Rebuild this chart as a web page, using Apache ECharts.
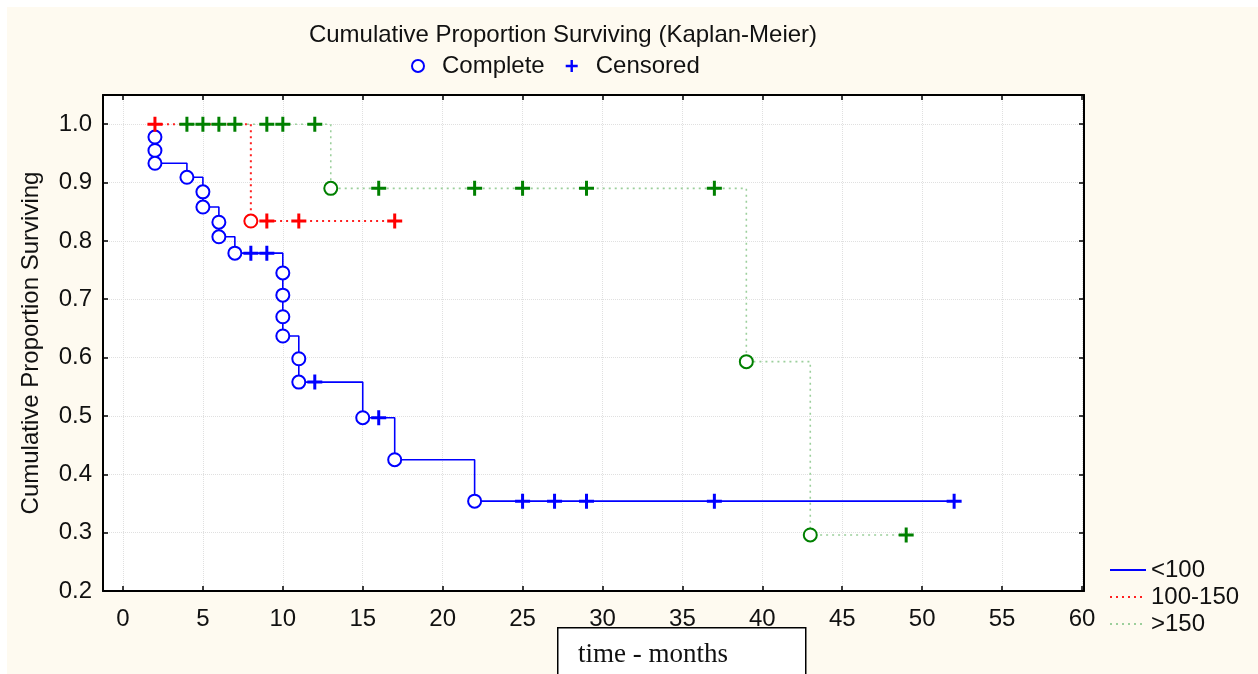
<!DOCTYPE html>
<html><head><meta charset="utf-8">
<script src="https://cdn.jsdelivr.net/npm/echarts@6/dist/echarts.min.js"></script>
<style>html,body{margin:0;padding:0;background:#fff;overflow:hidden;}
#bg{position:absolute;left:7px;top:7px;right:0;bottom:0;background:#fefaf0;}
#c{position:absolute;left:0;top:0;width:1258px;height:674px;}
</style></head><body><div id="bg"></div><div id="c"></div>
<script>
// ---- data ----
const xTicks = [0,5,10,15,20,25,30,35,40,45,50,55,60];
const yTicks = [0.2,0.3,0.4,0.5,0.6,0.7,0.8,0.9,1.0];

// group "<100"
const blueTime  = [2,2,2,4,5,5,6,6,7,8,9,10,10,10,10,11,11,12,15,16,17,22,25,27,29,37,52];
const blueSurv  = [0.978,0.955,0.933,0.909,0.884,0.858,0.832,0.807,0.779,0.779,0.779,0.745,0.707,0.670,0.637,0.598,0.558,0.558,0.497,0.497,0.425,0.354,0.354,0.354,0.354,0.354,0.354];
const blueEvent = [1,1,1,1,1,1,1,1,1,0,0,1,1,1,1,1,1,0,1,0,1,1,0,0,0,0,0];

// group "100-150"
const redTime  = [2,8,9,11,17];
const redSurv  = [1.0,0.834,0.834,0.834,0.834];
const redEvent = [0,1,0,0,0];

// group ">150"
const greenTime  = [4,5,6,7,9,10,12,13,16,22,25,29,37,39,43,49];
const greenSurv  = [1,1,1,1,1,1,1,0.890,0.890,0.890,0.890,0.890,0.890,0.593,0.296,0.296];
const greenEvent = [0,0,0,0,0,0,0,1,0,0,0,0,0,1,1,0];

const groupNames = ['<100','100-150','>150'];

// ---- build ----
const FONT = 'Liberation Sans, Arial, sans-serif';
const FS = 24;
const PLUS = 'path://M4,0H6V4H10V6H6V10H4V6H0V4H4Z';
function pts(t, s){ return t.map((x,i)=>[x,s[i]]); }
function pick(t, s, e, flag){ const r=[]; t.forEach((x,i)=>{ if(e[i]===flag) r.push([x,s[i]]); }); return r; }

const groups = [
  {name:groupNames[0], t:blueTime, s:blueSurv, e:blueEvent, mark:'#0000ff', line:'#0000ff', type:'solid', w:1.6},
  {name:groupNames[1], t:redTime, s:redSurv, e:redEvent, mark:'#ff0000', line:'#ff2020', type:[2,4], w:2},
  {name:groupNames[2], t:greenTime, s:greenSurv, e:greenEvent, mark:'#008000', line:'#9ccf9c', type:[2,4], w:1.6}
];

const series = [];
groups.slice().reverse().forEach(g=>{
  series.push({type:'line', name:g.name, step:'end', data:pts(g.t,g.s), symbol:'none',
    lineStyle:{color:g.line, width:g.w, type:g.type}, itemStyle:{color:g.line}, z:2, silent:true});
});
groups.forEach(g=>{
  series.push({type:'scatter', name:'Complete', data:pick(g.t,g.s,g.e,1), symbol:'circle', symbolSize:13,
    itemStyle:{color:'#ffffff', borderColor:g.mark, borderWidth:2, opacity:1}, z:4});
  series.push({type:'scatter', name:'Censored', data:pick(g.t,g.s,g.e,0), symbol:PLUS, symbolSize:15,
    itemStyle:{color:g.mark, opacity:1}, z:5});
});

const axisCommon = {
  axisLine:{show:true, onZero:false, lineStyle:{color:'#000', width:2}},
  axisTick:{show:true, inside:true, length:5, lineStyle:{color:'#000', width:1.5}},
};
function axis(base, ticks){
  return Object.assign({}, base, {axisLine:axisCommon.axisLine,
    axisTick:Object.assign({}, axisCommon.axisTick, {customValues:ticks})});
}

const option = {
  backgroundColor:'transparent',
  animation:false,
  title:{text:'Cumulative Proportion Surviving (Kaplan-Meier)', left:558, top:18, textAlign:'center',
    textStyle:{fontFamily:FONT, fontSize:FS, fontWeight:'normal', color:'#111'}},
  legend:[
    {data:[{name:'Complete', icon:'circle'},{name:'Censored', icon:PLUS}], left:406, top:49, itemWidth:38, itemHeight:12, itemGap:21,
      textStyle:{fontFamily:FONT, fontSize:FS, color:'#111'}, selectedMode:false},
    {data:groupNames, orient:'vertical', left:1104, top:553, itemWidth:36, itemHeight:14, itemGap:3,
      itemStyle:{opacity:0},
      textStyle:{fontFamily:FONT, fontSize:FS, color:'#111'}, selectedMode:false}
  ],
  grid:{left:103, right:174, top:95, bottom:83, show:true, backgroundColor:'#ffffff', borderWidth:0},
  xAxis:[
    axis({type:'value', min:-1.25, max:60.125, position:'bottom',
      axisLabel:{customValues:xTicks, color:'#111', fontFamily:FONT, fontSize:FS, margin:16},
      splitLine:{show:true, lineStyle:{color:'#e0e0e0', type:'dotted', width:1}}}, xTicks),
    axis({type:'value', min:-1.25, max:60.125, position:'top',
      axisLabel:{show:false}, splitLine:{show:false}}, xTicks)
  ],
  yAxis:[
    axis({type:'value', min:0.2, max:1.05, position:'left',
      name:'Cumulative Proportion Surviving', nameLocation:'middle', nameGap:60, nameRotate:90,
      nameTextStyle:{fontFamily:FONT, fontSize:FS, color:'#111'},
      axisLabel:{customValues:yTicks, formatter:v=>v.toFixed(1), color:'#111', fontFamily:FONT, fontSize:FS, margin:11},
      splitLine:{show:true, lineStyle:{color:'#e0e0e0', type:'dotted', width:1}}}, yTicks),
    axis({type:'value', min:0.2, max:1.05, position:'right',
      axisLabel:{show:false}, splitLine:{show:false}}, yTicks)
  ],
  graphic:[
    {type:'rect', left:557, top:627, shape:{width:248, height:60}, style:{fill:'#ffffff', stroke:'#000', lineWidth:1.5}, z:10},
    {type:'text', left:578, top:641, style:{text:'time - months', font:'27px "Liberation Serif", "Times New Roman", serif', fill:'#111'}, z:11}
  ],
  series: series
};
const chart = echarts.init(document.getElementById('c'), null, {renderer:'canvas'});
chart.setOption(option);
</script></body></html>
